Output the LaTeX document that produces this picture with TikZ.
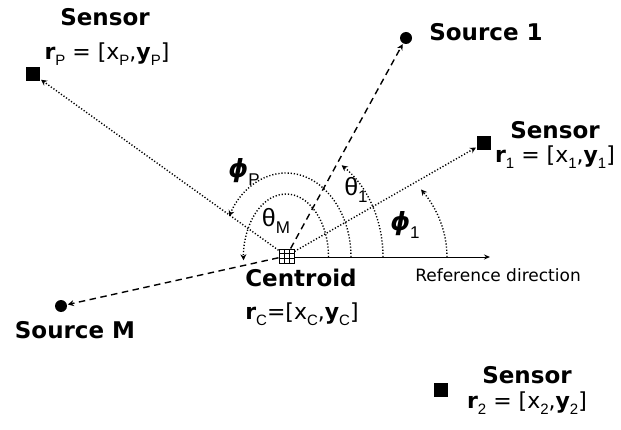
\documentclass[tikz,border=0pt]{standalone}
\usepackage{fontspec}
\setmainfont{DejaVu Sans}
\newfontfamily\lt{Liberation Sans}
\usetikzlibrary{arrows.meta}
\newcommand{\mysub}[1]{\raisebox{-0.28em}{\fontsize{15}{15}\selectfont\lt #1}}
\newcommand{\gsub}[1]{\raisebox{-0.3em}{\fontsize{17}{17}\selectfont\lt #1}}
\tikzset{
  sq/.style={fill=black, minimum size=14pt, inner sep=0pt, outer sep=1pt},
  dotnode/.style={circle, fill=black, minimum size=12pt, inner sep=0pt, outer sep=1pt},
  title/.style={font=\fontsize{23}{27}\selectfont\bfseries, inner sep=0pt},
  coord/.style={font=\fontsize{22}{26}\selectfont, inner sep=0pt},
  greek/.style={font=\fontsize{25}{28}\selectfont, inner sep=0pt},
  tip/.style={-{Stealth[length=6pt,width=6pt]}},
  dashline/.style={line width=1.4pt, dash pattern=on 6.5pt off 4.5pt, tip},
  dotline/.style={line width=1.4pt, dash pattern=on 1.2pt off 1.9pt, tip},
}
\begin{document}
\begin{tikzpicture}[x=1pt,y=1pt]
\useasboundingbox (0,0) rectangle (621,429);
% nodes
\node[sq] (sP) at (33,355) {};
\node[sq] (s1n) at (484,286) {};
\node[sq] (s2n) at (441,39) {};
\node[dotnode] (so1) at (406,391) {};
\node[dotnode] (soM) at (61,123) {};
\node[draw, line width=1pt, minimum width=15pt, minimum height=14pt, inner sep=0pt,
  path picture={
    \draw[line width=0.8pt] ([xshift=5pt]path picture bounding box.south west) -- ([xshift=5pt]path picture bounding box.north west);
    \draw[line width=0.8pt] ([xshift=10pt]path picture bounding box.south west) -- ([xshift=10pt]path picture bounding box.north west);
    \draw[line width=0.8pt] ([yshift=4.7pt]path picture bounding box.south west) -- ([yshift=4.7pt]path picture bounding box.south east);
    \draw[line width=0.8pt] ([yshift=9.3pt]path picture bounding box.south west) -- ([yshift=9.3pt]path picture bounding box.south east);
  }] (c) at (286.5,173) {};
\coordinate (ref) at (490,172);
% connectors
\draw[line width=1pt, -{Stealth[length=6pt,width=5pt]}] (c.east |- ref) -- (ref);
\draw[dashline] (c) -- (so1);
\draw[dashline] (c) -- (soM);
\draw[dotline] (c) -- (s1n);
\draw[dotline] (c) -- (sP);
% arcs
\draw[dotline] (328.5,172) arc[start angle=0, end angle=183, x radius=42.5pt, y radius=63pt];
\draw[dotline] (351,172) arc[start angle=0, end angle=151, x radius=65pt, y radius=84pt];
\draw[dotline] (383,172) arc[start angle=0, end angle=55, x radius=97pt, y radius=112pt];
\draw[dotline] (447,172) arc[start angle=0, end angle=33, x radius=161pt, y radius=124pt];
% labels
\node[title] (tP) at (105,412) {Sensor};
\node[coord] (lP) at (107,375) {{\bfseries r}\mysub{P} = [x\mysub{P},{\bfseries y}\mysub{P}]};
\node[title] (t1) at (486,397) {Source 1};
\node[title] (tS1) at (555,299) {Sensor};
\node[coord] (l1) at (555,272) {{\bfseries r}\mysub{1} = [x\mysub{1},{\bfseries y}\mysub{1}]};
\node[title] (tc) at (301,151) {Centroid};
\node[coord] (lc) at (302,115) {{\bfseries r}\mysub{C}=[x\mysub{C},{\bfseries y}\mysub{C}]};
\node[title] (tM) at (75,99) {Source M};
\node[title] (tS2) at (527,54) {Sensor};
\node[coord] (l2) at (527,26) {{\bfseries r}\mysub{2} = [x\mysub{2},{\bfseries y}\mysub{2}]};
\node[inner sep=0pt, font=\fontsize{17}{20}\selectfont] (rd) at (498,154) {Reference direction};
\node[greek] (gP) at (244,257) {{\bfseries\itshape ϕ}\gsub{P}};
\node[greek] (gM) at (276,208) {{\lt θ}\gsub{M}};
\node[greek] (g1) at (356,239) {{\lt θ}\gsub{1}};
\node[greek] (f1) at (405,204) {{\bfseries\itshape ϕ}\gsub{1}};
\end{tikzpicture}
\end{document}
